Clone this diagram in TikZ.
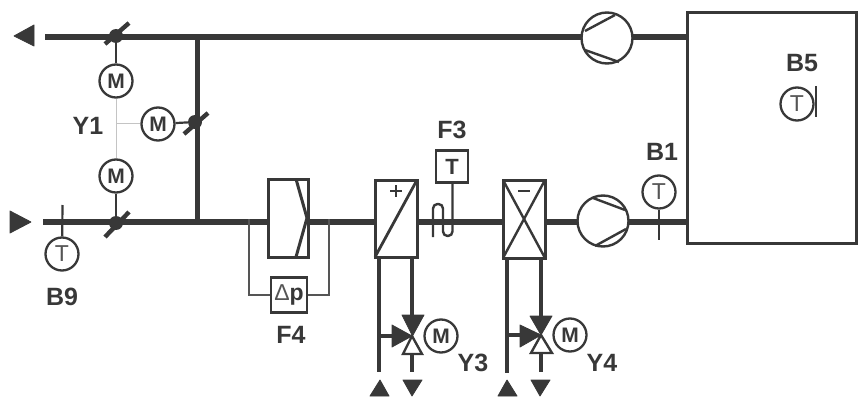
\documentclass[tikz,border=0pt]{standalone}
\usepackage{fontspec}
\setmainfont{Liberation Sans}
\definecolor{ink}{HTML}{383838}
\definecolor{faint}{HTML}{C4C4C4}
\definecolor{mid}{HTML}{555555}
\tikzset{
  duct/.style={ink,line width=6.5pt},
  pipe/.style={ink,line width=4.4pt},
  wire/.style={ink,line width=2.2pt},
  tap/.style={mid,line width=1.8pt},
  hair/.style={faint,line width=1pt},
  box/.style={draw=ink,line width=3pt,fill=white},
  tip/.style={fill=ink,draw=ink,line width=.8pt,line join=round},
  opentip/.style={fill=white,draw=ink,line width=2.4pt},
  gauge/.style={circle,draw=ink,line width=2.3pt,fill=white,minimum size=33pt,inner sep=0pt,text=ink},
  mot/.style={gauge,font=\fontsize{21}{21}\selectfont\bfseries},
  temp/.style={gauge,text=mid,font=\fontsize{23}{23}\selectfont},
  fan/.style={circle,draw=ink,line width=2.4pt,fill=white,minimum size=51pt,inner sep=0pt},
  tag/.style={text=ink,inner sep=0pt,font=\fontsize{25}{25}\selectfont\bfseries},
  small/.style={draw=ink,line width=2.4pt,fill=white,minimum size=32pt,inner sep=0pt,text=ink},
  blade/.style={ink,line width=2.4pt},
  flap/.style={ink,line width=4.4pt},
  hub/.style={circle,fill=ink,minimum size=14pt,inner sep=0pt},
}
\begin{document}
\begin{tikzpicture}[x=1pt,y=-1pt]
\useasboundingbox (0,0) rectangle (862,401);
% anchor coordinates
\coordinate (topin) at (45,37);
\coordinate (botin) at (43,222);
\coordinate (tj) at (197,37);
\coordinate (bj) at (197,222);
\coordinate (troom) at (687,37);
\coordinate (broom) at (687,222);
% ducts
\draw[duct] (topin) -- (troom);
\draw[duct] (botin) -- (broom);
\draw[pipe,line width=5pt] (tj) -- (bj);
% flow arrows
\fill[tip] (14,36) -- (34,25) -- (34,46) -- cycle;
\fill[tip] (10,211) -- (31,222) -- (10,233) -- cycle;
% dampers
\node[hub] (d1) at (116,36) {};
\node[hub] (d2) at (195,122) {};
\node[hub] (d3) at (116,223) {};
\draw[flap] (105,44) -- (129,23);
\draw[flap] (184,134) -- (208,113);
\draw[flap] (105,237) -- (129,212);
% actuators
\node[mot] (m1) at (116,81) {M};
\node[mot] (m2) at (158,124) {M};
\node[mot] (m3) at (116,176) {M};
\coordinate (link) at (116,124);
\draw[hair] (m1) -- (m3);
\draw[hair] (link) -- (m2);
\draw[wire] (m1) -- (d1);
\draw[wire] (m2) -- (d2);
\draw[wire] (m3) -- (d3);
\node[tag] (y1) at (88,126) {Y1};
% B9
\node[temp] (b9t) at (62,254) {T};
\coordinate (b9e) at (62.5,205);
\draw[wire] (b9t) -- (b9e);
\node[tag] (b9) at (62,297) {B9};
% filter and differential pressure
\coordinate (tapa) at (249,219);
\coordinate (tapb) at (329,219);
\node[draw=ink,line width=2.4pt,fill=white,minimum width=36pt,minimum height=35pt,inner sep=0pt,text=ink] (dp) at (289,295)
  {\fontsize{23}{23}\selectfont{\color{mid}Δ}\textbf{p}};
\draw[tap] (tapa) |- (dp);
\draw[tap] (tapb) |- (dp);
\draw[box] (268,179) rectangle (308,257);
\draw[ink,line width=3pt] (296,179) -- (307,218) -- (296,257);
\node[tag] (f4) at (291,335) {F4};
% heater
\draw[pipe] (379,257) -- (379,372);
\draw[pipe] (412,257) -- (412,320);
\draw[pipe] (412,350) -- (412,372);
\draw[pipe] (379,336) -- (395,336);
\node[mot] (m4) at (441,336) {M};
\fill[tip] (402,315) -- (424,315) -- (412.5,336) -- cycle;
\fill[tip] (392,325) -- (392,347) -- (412,336) -- cycle;
\draw[opentip] (412,336) -- (403,354) -- (422,354) -- cycle;
\draw[box] (375,180) rectangle (417,257);
\draw[ink,line width=2.8pt] (375,257) -- (417,180);
\draw[ink,line width=2.8pt] (390,191) -- (402,191) (396,185) -- (396,197);
\fill[tip] (370,396) -- (389,396) -- (380,380) -- cycle;
\fill[tip] (403,380) -- (422,380) -- (412,396) -- cycle;
\node[tag] (y3) at (473,363) {Y3};
% F3
\coordinate (bulbl) at (433,237);
\node[small] (f3t) at (452,166.5) {\fontsize{22}{22}\selectfont\bfseries T};
\draw[ink,line width=2.4pt,rounded corners=4.5pt] (bulbl) -- (433,204) -- (443,204) -- (443,236) -- (452.5,236) -- (f3t.south -| 452.5,0);
\node[tag] (f3) at (452,130) {F3};
% cooler
\draw[pipe] (507,258) -- (507,373);
\draw[pipe] (541,258) -- (541,320);
\draw[pipe] (541,350) -- (541,372);
\draw[pipe] (507,335) -- (523,335);
\node[mot] (m5) at (570,335) {M};
\fill[tip] (530,316) -- (552,316) -- (541,335) -- cycle;
\fill[tip] (520,325) -- (520,347) -- (541,335) -- cycle;
\draw[opentip] (541,335) -- (531,353) -- (552,353) -- cycle;
\draw[box] (503,180) rectangle (545,258);
\draw[ink,line width=2.4pt] (503,180) -- (545,258) (545,180) -- (503,258);
\fill[white] (514,186) rectangle (534,196);
\draw[ink,line width=2.8pt] (518,191) -- (530,191);
\fill[tip] (498,396) -- (517,396) -- (507,380) -- cycle;
\fill[tip] (531,380) -- (550,380) -- (540,396) -- cycle;
\node[tag] (y4) at (602,363) {Y4};
% fans
\node[fan] (fan1) at (607,38) {};
\draw[blade] (585,31) -- (615,15) (585,50) -- (619,62);
\node[fan] (fan2) at (603,221) {};
\draw[blade] (593,198) -- (625,210) (595,246) -- (626,229);
% B1
\node[temp] (b1t) at (659,192) {T};
\coordinate (b1e) at (659,240);
\draw[wire] (b1t) -- (b1e);
\node[tag] (b1) at (662,152) {B1};
% room
\draw[box,fill=none] (687,12.5) rectangle (856,243);
% B5
\node[temp] (b5t) at (797,104) {T};
\coordinate (b5a) at (816,86);
\coordinate (b5b) at (816,117);
\draw[wire] (b5a) -- (b5b);
\node[tag] (b5) at (802,63) {B5};
\end{tikzpicture}
\end{document}
